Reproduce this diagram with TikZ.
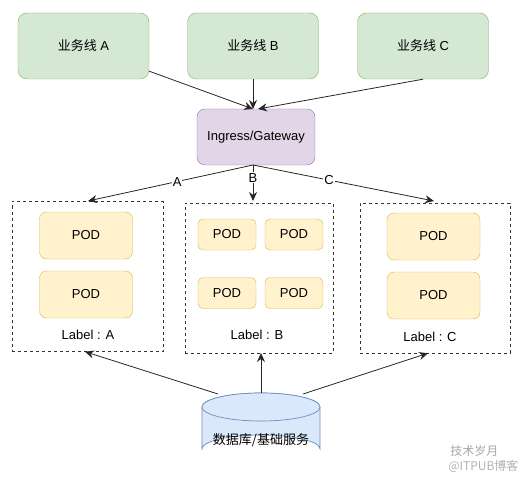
\documentclass[tikz,border=0pt]{standalone}
\usepackage{fontspec}
\setmainfont{Liberation Sans}
\newfontfamily\cjk{Noto Sans CJK SC}
\usetikzlibrary{arrows.meta}
\definecolor{gfill}{HTML}{D5E8D4}
\definecolor{gdraw}{HTML}{82B366}
\definecolor{pfill}{HTML}{E1D5E7}
\definecolor{pdraw}{HTML}{9673A6}
\definecolor{yfill}{HTML}{FFF2CC}
\definecolor{ydraw}{HTML}{D6B656}
\definecolor{bfill}{HTML}{DAE8FC}
\definecolor{bdraw}{HTML}{6C8EBF}
\tikzset{
  every node/.style={font=\fontsize{13}{15}\selectfont},
  biz/.style={draw=gdraw,fill=gfill,rounded corners=9pt,minimum width=131pt,minimum height=66pt,inner sep=0pt},
  gw/.style={draw=pdraw,fill=pfill,rounded corners=8pt,minimum width=118pt,minimum height=56pt,inner sep=0pt},
  podbig/.style={draw=ydraw,fill=yfill,rounded corners=7pt,minimum width=93pt,minimum height=47pt,inner sep=0pt},
  podsmall/.style={draw=ydraw,fill=yfill,rounded corners=5pt,minimum width=58pt,minimum height=31pt,inner sep=0pt},
  group/.style={draw=black!80,dashed,minimum width=#1,minimum height=150pt,inner sep=0pt},
  conn/.style={draw=black!85,line width=0.8pt,-{Stealth[length=9pt,width=8pt,inset=3pt]}},
  lbl/.style={fill=white,inner sep=1pt}
}
\begin{document}
\begin{tikzpicture}[x=1pt,y=-1pt]
\useasboundingbox (0,0) rectangle (529,478);
% business lines
\node[biz] (ba) at (83.5,46) {{\cjk 业务线} A};
\node[biz] (bb) at (253,46) {{\cjk 业务线} B};
\node[biz] (bc) at (423,46) {{\cjk 业务线} C};
% gateway
\node[gw] (gw) at (256,137) {Ingress/Gateway};
\coordinate (gwin) at (253,109);
\draw[conn] (ba.south east) ++(0,-8) -- (gwin);
\draw[conn] (bb.south) -- (gwin);
\draw[conn] (bc.south) -- (258,109);
% groups
\node[group=151pt] (ga) at (87.5,276.5) {};
\node[group=148pt] (gb) at (259,278) {};
\node[group=150pt] (gc) at (435,278) {};
% pods A
\node[podbig] (a1) at (86,235.5) {POD};
\node[podbig] (a2) at (86,294.5) {POD};
\node (la) at (88,335) {Label : A};
% pods B
\node[podsmall] (b1) at (227,234.5) {POD};
\node[podsmall] (b2) at (294,234.5) {POD};
\node[podsmall] (b3) at (227,293) {POD};
\node[podsmall] (b4) at (294,293) {POD};
\node (lb) at (257,335) {Label : B};
% pods C
\node[podbig] (c1) at (433.5,236.5) {POD};
\node[podbig] (c2) at (433.5,295.5) {POD};
\node (lc) at (430,337) {Label : C};
% gateway to groups
\coordinate (gwout) at (253,165);
\draw[conn] (gwout) -- node[lbl,pos=0.46] {A} (88,201);
\draw[conn] (gwout) -- node[lbl,pos=0.36] {B} (253,201);
\draw[conn] (gwout) -- node[lbl,pos=0.42] {C} (434,201);
% database cylinder
\fill[bfill,draw=bdraw,line width=0.7pt] (202,407) arc[start angle=180,end angle=360,x radius=59,y radius=14] -- (320,449) arc[start angle=0,end angle=-180,x radius=59,y radius=14] -- cycle;
\filldraw[fill=bfill,draw=bdraw,line width=0.7pt] (261,407) ellipse[x radius=59,y radius=14];
\node (db) at (261,440) {\cjk 数据库/基础服务};
\coordinate (dbl) at (218,394);
\coordinate (dbm) at (261,393);
\coordinate (dbr) at (303,394);
\draw[conn] (dbl) -- (ga.south -| 85,0);
\draw[conn] (dbm) -- (261,353);
\draw[conn] (dbr) -- (gc.south -| 428,0);
% watermark
\node[text=black!35,font=\fontsize{12}{13}\selectfont\cjk,anchor=east] (wm1) at (502,451) {技术岁月};
\node[text=black!30,font=\fontsize{12}{13}\selectfont\cjk,anchor=east] (wm2) at (522,466) {@ITPUB博客};
\end{tikzpicture}
\end{document}
